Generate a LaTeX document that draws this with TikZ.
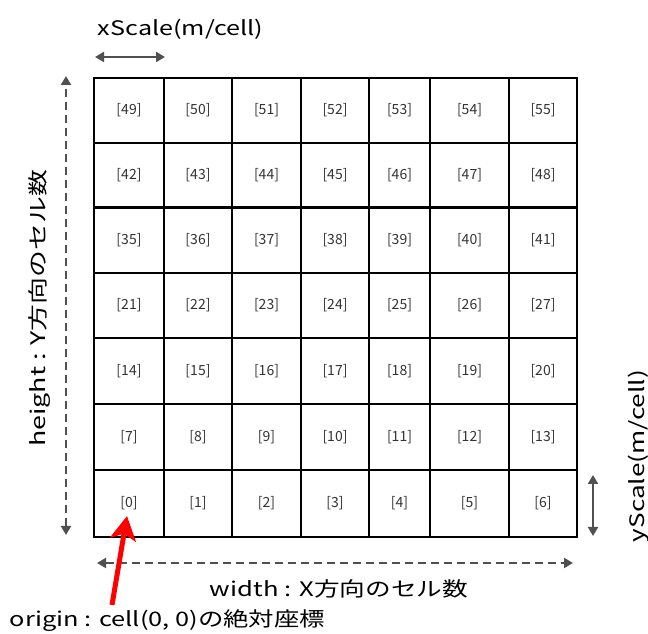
\documentclass[tikz,border=0pt]{standalone}
\usepackage{fontspec}
\setmainfont{Noto Sans CJK JP}
\usepackage{graphicx}
\usetikzlibrary{arrows.meta}
\definecolor{arrgray}{HTML}{505050}
\definecolor{lblgray}{HTML}{333333}
\begin{document}
\begin{tikzpicture}[x=1pt,y=1pt,
  cellbox/.style={draw=black, line width=2.9pt, inner sep=0pt, outer sep=0pt,
    font=\fontsize{14}{16}\selectfont, text=lblgray},
  biglabel/.style={inner sep=0pt, font=\fontsize{20}{24}\selectfont},
  dimarrow/.style={draw=arrgray, line width=2pt,
    {Triangle[length=9pt,width=10pt]}-{Triangle[length=9pt,width=10pt]}},
  dasharrow/.style={dimarrow, dash pattern=on 8pt off 5pt},
  originarrow/.style={draw=red, line width=5pt,
    -{Stealth[length=24pt,width=26pt,inset=6pt]}}
]
\useasboundingbox (0,0) rectangle (648,634);
\def\colx{{94,164,232,301,369,430,509,577}}
\def\rowy{{97,164,230,296,361,426.5,491,556}}
\foreach \c in {0,...,6}{
  \foreach \r in {0,...,6}{
    \pgfmathsetmacro\xa{\colx[\c]}
    \pgfmathsetmacro\xb{\colx[\c+1]}
    \pgfmathsetmacro\ya{\rowy[\r]}
    \pgfmathsetmacro\yb{\rowy[\r+1]}
    \pgfmathsetmacro\cw{\xb-\xa}
    \pgfmathsetmacro\ch{\yb-\ya}
    \pgfmathsetmacro\cx{(\xa+\xb)/2}
    \pgfmathsetmacro\cy{(\ya+\yb)/2}
    \pgfmathtruncatemacro\n{\r<4 ? 7*\r+\c : 7*(\r+1)+\c}
    \node[cellbox, minimum width=\cw pt, minimum height=\ch pt] (c\n) at (\cx,\cy) {[\n]};
  }
}
% labels
\node[biglabel] (xlab) at (180.5,605) {\resizebox{165pt}{\height}{xScale(m/cell)}};
\node[biglabel] (wlab) at (339,45) {\resizebox{258pt}{\height}{width : X方向のセル数}};
\node[biglabel] (olab) at (167.5,13) {\resizebox{315pt}{\height}{origin : cell(0, 0)の絶対座標}};
\node[biglabel, rotate=90] (hlab) at (40,325.5) {\resizebox{277pt}{\height}{height : Y方向のセル数}};
\node[biglabel, rotate=90] (ylab) at (639,178) {\resizebox{172pt}{\height}{yScale(m/cell)}};
% arrows
\coordinate (xsL) at (95,577); \coordinate (xsR) at (165,577);
\coordinate (hT) at (66,558); \coordinate (hB) at (66,99);
\coordinate (wL) at (97,71); \coordinate (wR) at (573,71);
\coordinate (ysT) at (593,159); \coordinate (ysB) at (593,98);
\coordinate (oS) at (112,29); \coordinate (oT) at (127,118);
\draw[dimarrow] (xsL) -- (xsR);
\draw[dasharrow] (hB) -- (hT);
\draw[dasharrow] (wL) -- (wR);
\draw[dimarrow] (ysB) -- (ysT);
\draw[originarrow] (oS) -- (oT);
\end{tikzpicture}
\end{document}
